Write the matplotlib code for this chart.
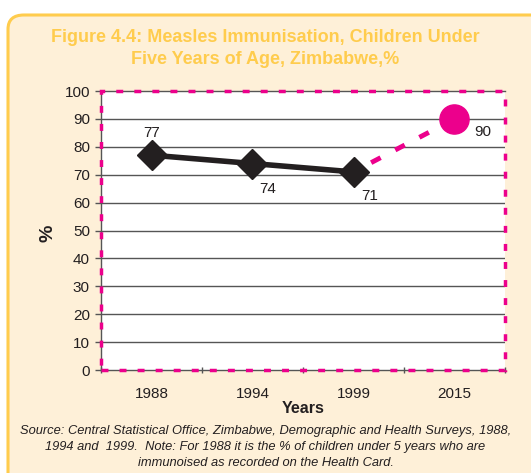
import matplotlib.pyplot as plt
from matplotlib.patches import FancyBboxPatch, Rectangle

plt.rcParams['font.family'] = ['Liberation Sans', 'DejaVu Sans']

# data
years = ['1988', '1994', '1999', '2015']
actual = [77, 74, 71]
target = 90
yticks = list(range(0, 101, 10))

pink = '#EC008C'
gold = '#FFCC4D'
cream = '#FEF0D8'
dark = '#231F20'

fig = plt.figure(figsize=(5.31, 4.73), dpi=100)
fig.patch.set_facecolor('white')

# rounded panel background
panel = FancyBboxPatch((8 / 531, 0.0 - 0.05), 1.1, 1 - 15 / 473 + 0.05,
                       boxstyle='round,pad=0,rounding_size=0.03',
                       transform=fig.transFigure, facecolor=cream,
                       edgecolor=gold, linewidth=2.2, zorder=-5)
fig.patches.append(panel)

fig.text(0.5, 1 - 37 / 473, 'Figure 4.4: Measles Immunisation, Children Under',
         ha='center', va='center', color=gold, fontsize=13, fontweight='bold')
fig.text(0.5, 1 - 59 / 473, 'Five Years of Age, Zimbabwe,%',
         ha='center', va='center', color=gold, fontsize=13, fontweight='bold')

ax = fig.add_axes([101 / 531, 1 - 370 / 473, 404 / 531, 279 / 473])
ax.set_facecolor('white')

x = [i + 0.5 for i in range(len(years))]
ax.set_xlim(0, len(years))
ax.set_ylim(0, 100)

for v in yticks[1:-1]:
    ax.axhline(v, color='#555555', linewidth=1.0, zorder=1)

# projected segment
ax.plot([x[2], x[3]], [actual[2], target], color=pink, linewidth=3.5,
        linestyle=(1.5, (2.2, 3.4)), zorder=2)
ax.plot(x[:3], actual, color=dark, linewidth=4, marker='D', markersize=15,
        markerfacecolor=dark, markeredgecolor=dark, zorder=3)
ax.plot([x[3]], [target], marker='o', color=pink, markersize=21, zorder=3)

lbl = dict(textcoords='offset points', ha='center', va='center', fontsize=11, color=dark)
ax.annotate(str(actual[0]), (x[0], actual[0]), xytext=(0, 16), **lbl)
ax.annotate(str(actual[1]), (x[1], actual[1]), xytext=(11, -18), **lbl)
ax.annotate(str(actual[2]), (x[2], actual[2]), xytext=(11.5, -17.3), **lbl)
ax.annotate(str(target), (x[3], target), xytext=(20, -9.4), **lbl)

ax.set_yticks(yticks)
ax.set_yticklabels([str(v) for v in yticks], fontsize=11, color=dark)
ax.set_xticks(range(len(years) + 1))
ax.set_xticklabels([])
ax.set_xticks(x, minor=True)
ax.set_xticklabels(years, minor=True, fontsize=11, color=dark)
ax.tick_params(axis='x', which='minor', length=0, pad=12)
ax.tick_params(axis='x', which='major', length=4, width=1, color='#555555', direction='inout')
ax.tick_params(axis='y', length=4, width=1, color='#555555', direction='out', pad=4)

for s in ['left', 'bottom', 'top']:
    ax.spines[s].set_color('#555555')
    ax.spines[s].set_linewidth(1.0)
ax.spines['right'].set_visible(False)

border = Rectangle((0, 0), 1, 1, transform=ax.transAxes, fill=False,
                   edgecolor=pink, linewidth=2.5, linestyle=(0, (2.0, 3.2)),
                   clip_on=False, zorder=5)
ax.add_patch(border)

ax.set_xlabel('Years', fontsize=11.5, fontweight='bold', color=dark, labelpad=0)
ax.set_ylabel('%', fontsize=14, fontweight='bold', color=dark)
ax.yaxis.set_label_coords(-0.109, 0.49)

fig.text(0.5, 1 - 431 / 473,
         'Source: Central Statistical Office, Zimbabwe, Demographic and Health Surveys, 1988,',
         ha='center', va='center', fontsize=9.3, style='italic', color=dark)
fig.text(0.5, 1 - 447 / 473,
         '1994 and  1999.  Note: For 1988 it is the % of children under 5 years who are',
         ha='center', va='center', fontsize=9.3, style='italic', color=dark)
fig.text(0.5, 1 - 463 / 473,
         'immunoised as recorded on the Health Card.',
         ha='center', va='center', fontsize=9.3, style='italic', color=dark)

fig.savefig('out.png', dpi=100)
